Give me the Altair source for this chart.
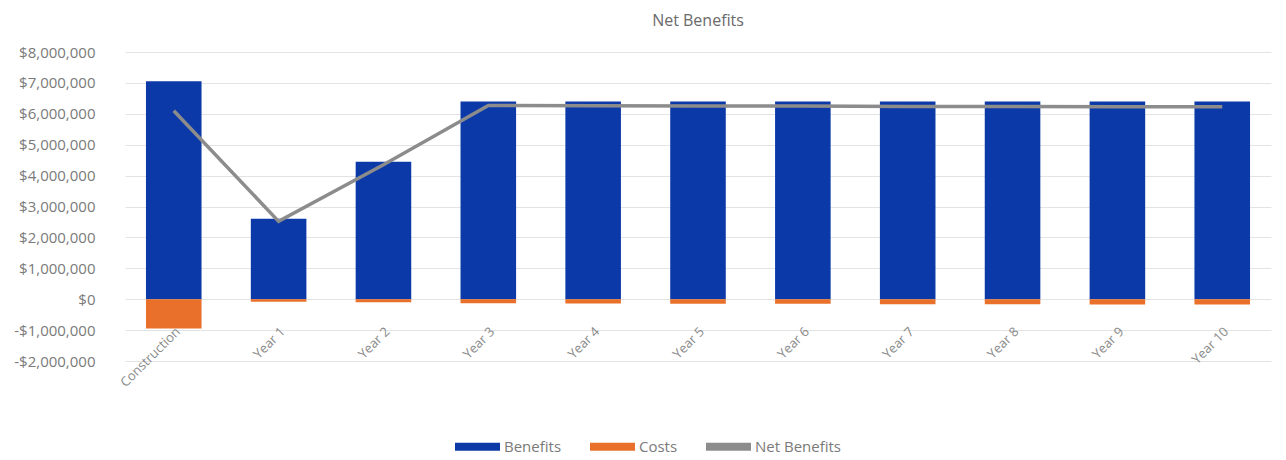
import altair as alt
import pandas as pd

categories = ["Construction", "Year 1", "Year 2", "Year 3", "Year 4", "Year 5",
              "Year 6", "Year 7", "Year 8", "Year 9", "Year 10"]
benefits = [7050000, 2600000, 4450000, 6400000, 6400000, 6400000,
            6400000, 6400000, 6400000, 6400000, 6400000]
costs = [-950000, -80000, -100000, -130000, -140000, -150000,
         -150000, -160000, -160000, -170000, -170000]
net_benefits = [6100000, 2520000, 4350000, 6270000, 6260000, 6250000,
                6250000, 6240000, 6240000, 6230000, 6230000]
y_ticks = [-2000000, -1000000, 0, 1000000, 2000000, 3000000, 4000000,
           5000000, 6000000, 7000000, 8000000]

series_names = ["Benefits", "Costs", "Net Benefits"]
series_colors = ["#0b3aa8", "#e8702a", "#8c8c8c"]

bars_df = pd.DataFrame(
    [{"cat": c, "series": "Benefits", "value": v, "order": 0} for c, v in zip(categories, benefits)]
    + [{"cat": c, "series": "Costs", "value": v, "order": 1} for c, v in zip(categories, costs)]
)
line_df = pd.DataFrame({"cat": categories, "series": "Net Benefits", "value": net_benefits})

FONT = "Open Sans"
PLOT_H = 309
color_scale = alt.Scale(domain=series_names, range=series_colors)
x_scale = alt.Scale(paddingInner=0.47, paddingOuter=0.2)
x_axis = alt.Axis(labelAngle=-45, labelColor="#8a8a8a", labelFontSize=13,
                  labelFont=FONT, domain=False, ticks=False, labelPadding=2,
                  offset=-38, zindex=1)
y_scale = alt.Scale(domain=[-2000000, 8000000], nice=False)
y_axis = alt.Axis(values=y_ticks, title=None, domain=False, ticks=False,
                  labelColor="#7a7a7a", labelFontSize=15, labelFont=FONT, labelPadding=30,
                  gridColor="#e3e3e3", labelOverlap=False, tickCount=20,
                  labelExpr="datum.value < 0 ? '-$' + format(-datum.value, ',') : '$' + format(datum.value, ',')")

bars = alt.Chart(bars_df).mark_bar().encode(
    x=alt.X("cat:N", sort=categories, title=None, scale=x_scale, axis=x_axis),
    y=alt.Y("value:Q", stack="zero", scale=y_scale, axis=y_axis),
    color=alt.Color("series:N", scale=color_scale,
                    legend=alt.Legend(orient="none", legendX=330, legendY=372,
                                      direction="horizontal", title=None,
                                      symbolType="M-1,-0.18H1V0.18H-1Z", symbolSize=2025,
                                      symbolStrokeWidth=0, labelFont=FONT, labelFontSize=15,
                                      labelColor="#7a7a7a", columnPadding=28, labelOffset=4)),
    order=alt.Order("order:Q"),
)

line = alt.Chart(line_df).mark_line(strokeWidth=3.5).encode(
    x=alt.X("cat:N", sort=categories, title=None, scale=x_scale, axis=x_axis),
    y=alt.Y("value:Q", scale=y_scale, axis=y_axis),
    color=alt.Color("series:N", scale=color_scale),
)

chart = alt.layer(bars, line).properties(
    width=1146, height=PLOT_H, background="white",
    title=alt.TitleParams("Net Benefits", font=FONT, fontSize=16, fontWeight="normal",
                          color="#6a6a6a", offset=16),
).configure_view(stroke=None)

chart.save("out.html", embed_options={"renderer": "svg", "actions": False})
